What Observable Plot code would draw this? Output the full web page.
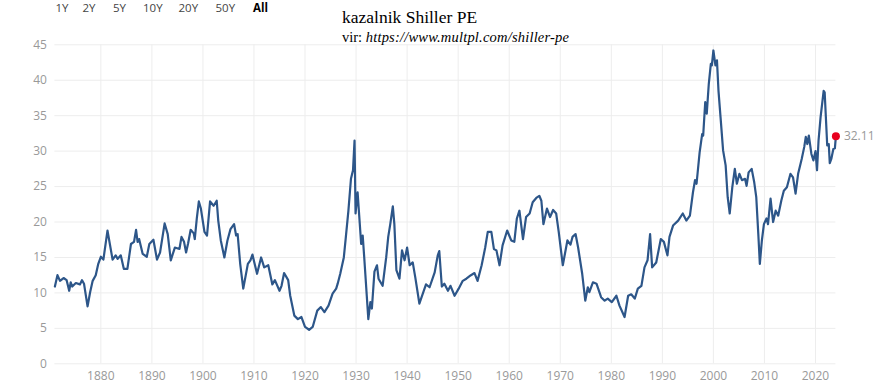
<!DOCTYPE html>
<html>
<head>
<meta charset="utf-8">
<script src="https://cdn.jsdelivr.net/npm/d3@7"></script>
<script src="https://cdn.jsdelivr.net/npm/@observablehq/plot@0.6"></script>
<style>
  html, body { margin: 0; padding: 0; background: #fff; }
  #wrap { position: relative; width: 890px; height: 384px; overflow: hidden; }
  .btn { position: absolute; top: 0.5px; font-family: "Open Sans", sans-serif; font-size: 11.5px; line-height: 13px; color: #444; white-space: nowrap; }
  .btn.sel { color: #000; font-weight: 700; }
  #title { position: absolute; left: 342px; top: 8px; font-family: "Liberation Serif", "Times New Roman", serif; font-size: 17.5px; line-height: 18px; color: #000; white-space: nowrap; }
  #sub { position: absolute; left: 342px; top: 30px; font-family: "Liberation Serif", "Times New Roman", serif; font-size: 14.5px; line-height: 15px; color: #000; white-space: nowrap; }
  #sub i { font-style: italic; letter-spacing: 0.2px; }
</style>
</head>
<body>
<div id="wrap"></div>
<script>
const rangeButtons = ["1Y", "2Y", "5Y", "10Y", "20Y", "50Y", "All"];
const buttonLeft = [55.5, 82.5, 113, 143, 178.5, 215.5, 253];
const titleText = "kazalnik Shiller PE";
const subtitlePrefix = "vir: ";
const subtitleUrl = "https://www.multpl.com/shiller-pe";

const xTicks = [1880, 1890, 1900, 1910, 1920, 1930, 1940, 1950, 1960, 1970, 1980, 1990, 2000, 2010, 2020];
const yTicks = [0, 5, 10, 15, 20, 25, 30, 35, 40, 45];

const years = [
  1871.0, 1871.5, 1872.0, 1872.7, 1873.3, 1873.8, 1874.1, 1874.4, 1875.1, 1875.9,
  1876.3, 1876.7, 1877.4, 1877.9, 1878.4, 1879.0, 1879.5, 1880.0, 1880.5, 1881.3,
  1882.3, 1882.9, 1883.3, 1883.9, 1884.5, 1885.2, 1885.9, 1886.5, 1886.9, 1887.2,
  1887.5, 1888.2, 1889.0, 1889.5, 1890.3, 1891.0, 1891.6, 1892.5, 1893.1, 1893.7,
  1894.5, 1895.4, 1895.8, 1896.3, 1896.7, 1897.1, 1897.6, 1898.2, 1898.4, 1898.8,
  1899.2, 1899.6, 1900.3, 1900.8, 1901.4, 1902.1, 1902.7, 1903.0, 1903.5, 1904.2,
  1904.8, 1905.4, 1906.1, 1906.5, 1906.8, 1907.3, 1907.9, 1908.8, 1909.3, 1909.7,
  1910.6, 1911.4, 1912.0, 1912.8, 1913.6, 1914.1, 1915.0, 1915.4, 1915.9, 1916.7,
  1917.1, 1917.9, 1918.6, 1919.3, 1920.0, 1920.8, 1921.5, 1922.4, 1923.1, 1923.8,
  1924.6, 1925.4, 1926.1, 1926.4, 1926.9, 1927.6, 1928.0, 1928.5, 1929.0, 1929.4,
  1929.7, 1929.9, 1930.3, 1931.0, 1931.3, 1931.6, 1932.4, 1932.8, 1933.1, 1933.6,
  1934.1, 1934.4, 1935.2, 1935.9, 1936.3, 1936.7, 1937.2, 1937.5, 1937.9, 1938.5,
  1939.0, 1939.5, 1940.0, 1940.5, 1941.1, 1941.6, 1942.4, 1943.7, 1944.4, 1945.4,
  1946.0, 1946.3, 1946.8, 1947.3, 1948.0, 1948.5, 1949.3, 1950.1, 1950.9, 1951.6,
  1952.5, 1953.2, 1953.8, 1954.6, 1955.3, 1955.8, 1956.5, 1957.0, 1957.5, 1958.1,
  1958.7, 1959.6, 1960.4, 1961.0, 1961.5, 1962.0, 1962.7, 1963.3, 1964.0, 1964.6,
  1965.3, 1965.9, 1966.3, 1966.7, 1967.4, 1968.0, 1968.6, 1969.2, 1969.7, 1970.5,
  1971.4, 1972.0, 1972.4, 1973.0, 1973.5, 1974.3, 1974.9, 1975.4, 1975.7, 1976.4,
  1977.1, 1978.0, 1978.7, 1979.3, 1980.1, 1981.0, 1981.6, 1982.6, 1983.3, 1983.9,
  1984.6, 1985.2, 1985.9, 1986.5, 1987.1, 1987.6, 1988.0, 1988.8, 1989.7, 1990.3,
  1991.0, 1991.4, 1992.1, 1993.1, 1994.0, 1994.7, 1995.4, 1996.0, 1996.4, 1996.7,
  1997.3, 1997.8, 1998.0, 1998.4, 1998.7, 1999.1, 1999.5, 1999.7, 2000.0, 2000.4,
  2000.7, 2001.0, 2001.4, 2001.9, 2002.4, 2002.8, 2003.2, 2003.7, 2004.2, 2004.6,
  2005.1, 2005.6, 2006.2, 2006.5, 2006.9, 2007.5, 2008.0, 2008.4, 2008.8, 2009.1,
  2009.5, 2009.9, 2010.4, 2010.7, 2011.2, 2011.7, 2012.2, 2012.7, 2013.3, 2013.8,
  2014.4, 2015.1, 2015.6, 2016.1, 2016.6, 2017.3, 2017.8, 2018.1, 2018.4, 2018.7,
  2019.2, 2019.6, 2020.0, 2020.3, 2020.6, 2021.0, 2021.6, 2021.8, 2022.3, 2022.6,
  2022.8, 2023.1, 2023.5, 2023.8, 2024.0
];
const peValues = [
  10.9, 12.5, 11.7, 12.1, 11.8, 10.3, 11.5, 10.9, 11.4, 11.2,
  11.8, 11.3, 8.1, 10.1, 11.7, 12.5, 14.1, 15.1, 14.7, 18.8,
  14.7, 15.3, 14.8, 15.3, 13.4, 13.4, 16.9, 17.2, 18.9, 17.2,
  17.6, 15.5, 15.1, 16.9, 17.5, 14.7, 15.7, 19.8, 18.3, 14.6,
  16.4, 16.2, 17.9, 17.2, 15.7, 17.0, 18.9, 18.4, 17.6, 20.5,
  22.9, 21.9, 18.6, 18.1, 22.9, 22.3, 23.0, 20.2, 17.4, 15.0,
  17.4, 19.0, 19.7, 18.1, 18.3, 14.1, 10.6, 14.1, 14.6, 15.4,
  12.7, 15.0, 13.6, 13.9, 11.2, 11.8, 10.3, 11.0, 12.8, 11.8,
  9.6, 6.8, 6.3, 6.6, 5.2, 4.8, 5.2, 7.5, 8.0, 7.3,
  8.2, 9.9, 10.6, 11.3, 12.7, 15.0, 17.9, 21.6, 26.1, 27.3,
  31.5, 21.2, 24.2, 16.9, 18.1, 15.0, 6.3, 8.7, 7.8, 13.0,
  13.9, 12.0, 11.0, 15.0, 17.9, 19.7, 22.2, 19.7, 13.2, 12.0,
  16.0, 14.6, 16.4, 13.9, 14.3, 12.2, 8.5, 11.2, 10.8, 12.9,
  15.3, 15.9, 10.9, 11.3, 10.3, 11.0, 9.6, 10.6, 11.7, 12.0,
  12.5, 12.8, 11.7, 13.9, 16.4, 18.6, 18.6, 16.2, 16.0, 13.9,
  16.7, 18.8, 17.4, 17.2, 20.5, 21.6, 17.6, 20.7, 21.2, 22.8,
  23.4, 23.7, 23.0, 19.7, 21.9, 20.7, 21.7, 21.2, 18.6, 13.9,
  17.4, 16.8, 17.9, 18.3, 16.4, 12.7, 8.9, 10.8, 10.1, 11.5,
  11.3, 9.4, 8.9, 9.2, 8.7, 9.6, 8.2, 6.6, 9.6, 9.8,
  9.2, 10.6, 11.0, 13.6, 14.6, 18.3, 13.6, 14.3, 17.6, 17.2,
  15.3, 17.9, 19.5, 20.2, 21.2, 20.2, 20.9, 24.2, 25.9, 25.4,
  29.8, 32.4, 32.2, 36.9, 35.3, 39.5, 42.3, 42.1, 44.2, 42.1,
  42.8, 38.5, 34.8, 30.1, 28.0, 23.5, 21.2, 24.9, 27.5, 25.4,
  26.8, 25.9, 26.1, 25.1, 27.0, 27.5, 25.6, 23.5, 18.3, 14.1,
  17.4, 19.7, 20.5, 19.7, 23.3, 20.0, 21.6, 20.9, 23.0, 24.4,
  24.9, 26.8, 26.3, 24.0, 26.8, 28.9, 30.6, 32.0, 31.0, 32.2,
  29.6, 28.7, 30.0, 27.3, 31.5, 34.8, 38.5, 38.3, 30.8, 31.0,
  28.3, 28.9, 30.3, 30.4, 32.11
];

const data = years.map((y, i) => ({year: y, pe: peValues[i]}));
const last = [data[data.length - 1]];

const chart = Plot.plot({
  width: 890,
  height: 384,
  marginLeft: 54.4,
  marginRight: 54.6,
  marginTop: 44.3,
  marginBottom: 20.7,
  style: {fontFamily: "'Open Sans', sans-serif", fontSize: "12px", color: "#999", background: "#fff", overflow: "visible"},
  x: {domain: [1871, 2024], label: null},
  y: {domain: [0, 45], label: null},
  marks: [
    Plot.gridX(xTicks, {stroke: "#ededed", strokeOpacity: 1, strokeWidth: 1}),
    Plot.gridY(yTicks, {stroke: "#ededed", strokeOpacity: 1, strokeWidth: 1}),
    Plot.axisX(xTicks, {tickSize: 0, tickPadding: 8, tickFormat: d => String(d), fill: "#999", fontSize: 12, label: null}),
    Plot.axisY(yTicks, {tickSize: 0, tickPadding: 8, fill: "#999", fontSize: 12, label: null}),
    Plot.line(data, {x: "year", y: "pe", stroke: "#2d5689", strokeWidth: 2.2, strokeLinejoin: "round"}),
    Plot.dot(last, {x: "year", y: "pe", r: 4, fill: "#e8001f", stroke: "none"}),
    Plot.text(last, {x: "year", y: "pe", text: d => d.pe.toFixed(2), dx: 8, textAnchor: "start", fill: "#999", fontSize: 12})
  ]
});

const wrap = document.getElementById("wrap");
wrap.appendChild(chart);

rangeButtons.forEach((b, i) => {
  const el = document.createElement("div");
  el.className = "btn" + (b === "All" ? " sel" : "");
  el.style.left = buttonLeft[i] + "px";
  el.textContent = b;
  wrap.appendChild(el);
});

const t = document.createElement("div");
t.id = "title";
t.textContent = titleText;
wrap.appendChild(t);

const s = document.createElement("div");
s.id = "sub";
s.appendChild(document.createTextNode(subtitlePrefix));
const it = document.createElement("i");
it.textContent = subtitleUrl;
s.appendChild(it);
wrap.appendChild(s);
</script>
</body>
</html>
